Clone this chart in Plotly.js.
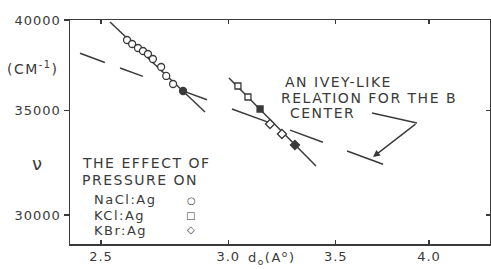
<!DOCTYPE html>
<html>
<head>
<meta charset="utf-8">
<script src="https://cdn.plot.ly/plotly-3.0.1.min.js"></script>
<style>
  html, body { margin: 0; padding: 0; background: #fff; }
  #chart { width: 491px; height: 269px; }
  .annotation-text { letter-spacing: 1.5px; }
  g.xtick text, g.ytick text { letter-spacing: 1px; }
</style>
</head>
<body>
<div id="chart"></div>
<script>
// ---- data ----
const naclX = [2.595, 2.614, 2.636, 2.655, 2.674, 2.693, 2.725, 2.745, 2.772, 2.812];
const naclY = [38837, 38608, 38381, 38212, 38043, 37763, 37320, 36830, 36396, 36022];

const kclX = [3.042, 3.086, 3.140];
const kclY = [36288, 35704, 35078];

const kbrX = [3.185, 3.240, 3.301];
const kbrY = [34310, 33807, 33263];

// fitted solid lines
const naclLineX = [2.5325, 2.9018];
const naclLineY = [39882, 34923];
const kLineX = [3.0033, 3.4019];
const kLineY = [36720, 32248];

// Ivey-like relation (dashed, drawn as separate dashes)
const iveyX = [2.426, 2.514, null, 2.569, 2.655, null, 2.800, 2.910, null, 3.016, 3.185, null, 3.278, 3.436, null, 3.557, 3.745];
const iveyY = [38082, 37572, null, 37268, 36808, null, 36080, 35558, null, 35081, 34369, null, 34000, 33399, null, 32969, 32334];

const xTickVals = [2.5, 3.0, 3.5, 4.0];
const xTickText = ['2.5', '3.0', '3.5', '4.0'];
const yTickVals = [30000, 35000, 40000];
const yTickText = ['30000', '35000', '40000'];

const legendLines = ['THE EFFECT OF', 'PRESSURE ON'];
const legendNames = ['NaCl:Ag', 'KCl:Ag', 'KBr:Ag'];
const legendSymbols = ['○', '□', '◇'];
const noteLines = ['AN IVEY-LIKE', 'RELATION FOR THE B', 'CENTER'];

// ---- styling ----
const ink = '#3a3a3a';
const font = 'DejaVu Sans, Arial, sans-serif';

const traces = [
  { x: naclLineX, y: naclLineY, mode: 'lines', line: { color: ink, width: 1.5 }, hoverinfo: 'skip' },
  { x: kLineX, y: kLineY, mode: 'lines', line: { color: ink, width: 1.5 }, hoverinfo: 'skip' },
  { x: iveyX, y: iveyY, mode: 'lines', connectgaps: false, line: { color: ink, width: 1.5 }, hoverinfo: 'skip' },
  { x: naclX, y: naclY, mode: 'markers', name: legendNames[0],
    marker: { symbol: 'circle', size: 7,
      color: ['#fff','#fff','#fff','#fff','#fff','#fff','#fff','#fff','#fff', ink],
      line: { color: ink, width: 1.3 } } },
  { x: kclX, y: kclY, mode: 'markers', name: legendNames[1],
    marker: { symbol: 'square', size: 6, color: ['#fff', '#fff', ink], line: { color: ink, width: 1.3 } } },
  { x: kbrX, y: kbrY, mode: 'markers', name: legendNames[2],
    marker: { symbol: 'diamond', size: 7, color: ['#fff', '#fff', ink], line: { color: ink, width: 1.3 } } },
  { x: [null], y: [null], yaxis: 'y2', mode: 'markers', showlegend: false, hoverinfo: 'skip' }
];

const W = 420, H = 224, L = 70, T = 20;
const px = v => (v - L) / W;
const py = v => (T + H - v) / H;

const annotations = [];
function txt(text, x, y, xanchor, size) {
  annotations.push({ text: text, xref: 'paper', yref: 'paper', x: x, y: y,
    xanchor: xanchor || 'left', yanchor: 'middle', showarrow: false,
    font: { family: font, size: size || 14, color: ink } });
}
txt(legendLines[0], px(80), py(162.5));
txt(legendLines[1], px(80), py(179.5));
txt(legendNames[0], px(92), py(199.5), 'left', 13);
txt(legendNames[1], px(92), py(215.5), 'left', 13);
txt(legendNames[2], px(92), py(230.5), 'left', 13);
txt(legendSymbols[0], px(191.5), py(200), 'center', 10);
txt(legendSymbols[1], px(191.5), py(215), 'center', 10);
txt(legendSymbols[2], px(191), py(229.5), 'center', 10);
txt(noteLines[0], px(283), py(82));
txt(noteLines[1], px(279), py(98));
txt(noteLines[2], px(288), py(113));
txt('(CM<sup>-1</sup>)', px(33), py(68), 'center', 14);
txt('ν', px(38), py(163), 'center', 18);
txt('d<sub>o</sub>(A<sup>o</sup>)', px(271), py(258), 'center', 13);

annotations.push({ xref: 'paper', yref: 'paper', x: px(373), y: py(157), ax: 44, ay: -34,
  text: '', showarrow: true, arrowhead: 2, arrowsize: 1, arrowwidth: 1.4, arrowcolor: ink });

const layout = {
  width: 491, height: 269,
  margin: { l: L, r: 1, t: T, b: 25 },
  paper_bgcolor: '#fff', plot_bgcolor: '#fff',
  showlegend: false,
  font: { family: font, size: 13, color: ink },
  xaxis: {
    type: 'log', range: [0.37865, 0.64002],
    tickmode: 'array', tickvals: xTickVals, ticktext: xTickText,
    ticks: 'inside', ticklen: 4, tickwidth: 1.3, tickcolor: ink,
    showline: true, linecolor: ink, linewidth: 1.5, mirror: 'ticks',
    showgrid: false, zeroline: false,
    tickfont: { family: font, size: 13, color: ink }
  },
  yaxis: {
    type: 'log', range: [4.45854, 4.60206],
    tickmode: 'array', tickvals: yTickVals, ticktext: yTickText,
    ticks: 'outside', ticklen: 5, tickwidth: 1.3, tickcolor: ink,
    showline: true, linecolor: ink, linewidth: 1.5, mirror: false,
    showgrid: false, zeroline: false,
    tickfont: { family: font, size: 13, color: ink }
  },
  yaxis2: {
    type: 'log', range: [4.45854, 4.60206], overlaying: 'y', side: 'right',
    tickmode: 'array', tickvals: yTickVals,
    ticks: 'inside', ticklen: 4, tickwidth: 1.3, tickcolor: ink,
    showticklabels: false,
    showline: true, linecolor: ink, linewidth: 1.5,
    showgrid: false, zeroline: false
  },
  shapes: [
    { type: 'line', xref: 'paper', yref: 'paper', x0: px(372), y0: py(113), x1: px(417), y1: py(123),
      line: { color: ink, width: 1.4 } }
  ],
  annotations: annotations
};

Plotly.newPlot('chart', traces, layout, { staticPlot: true, displayModeBar: false });
</script>
</body>
</html>
